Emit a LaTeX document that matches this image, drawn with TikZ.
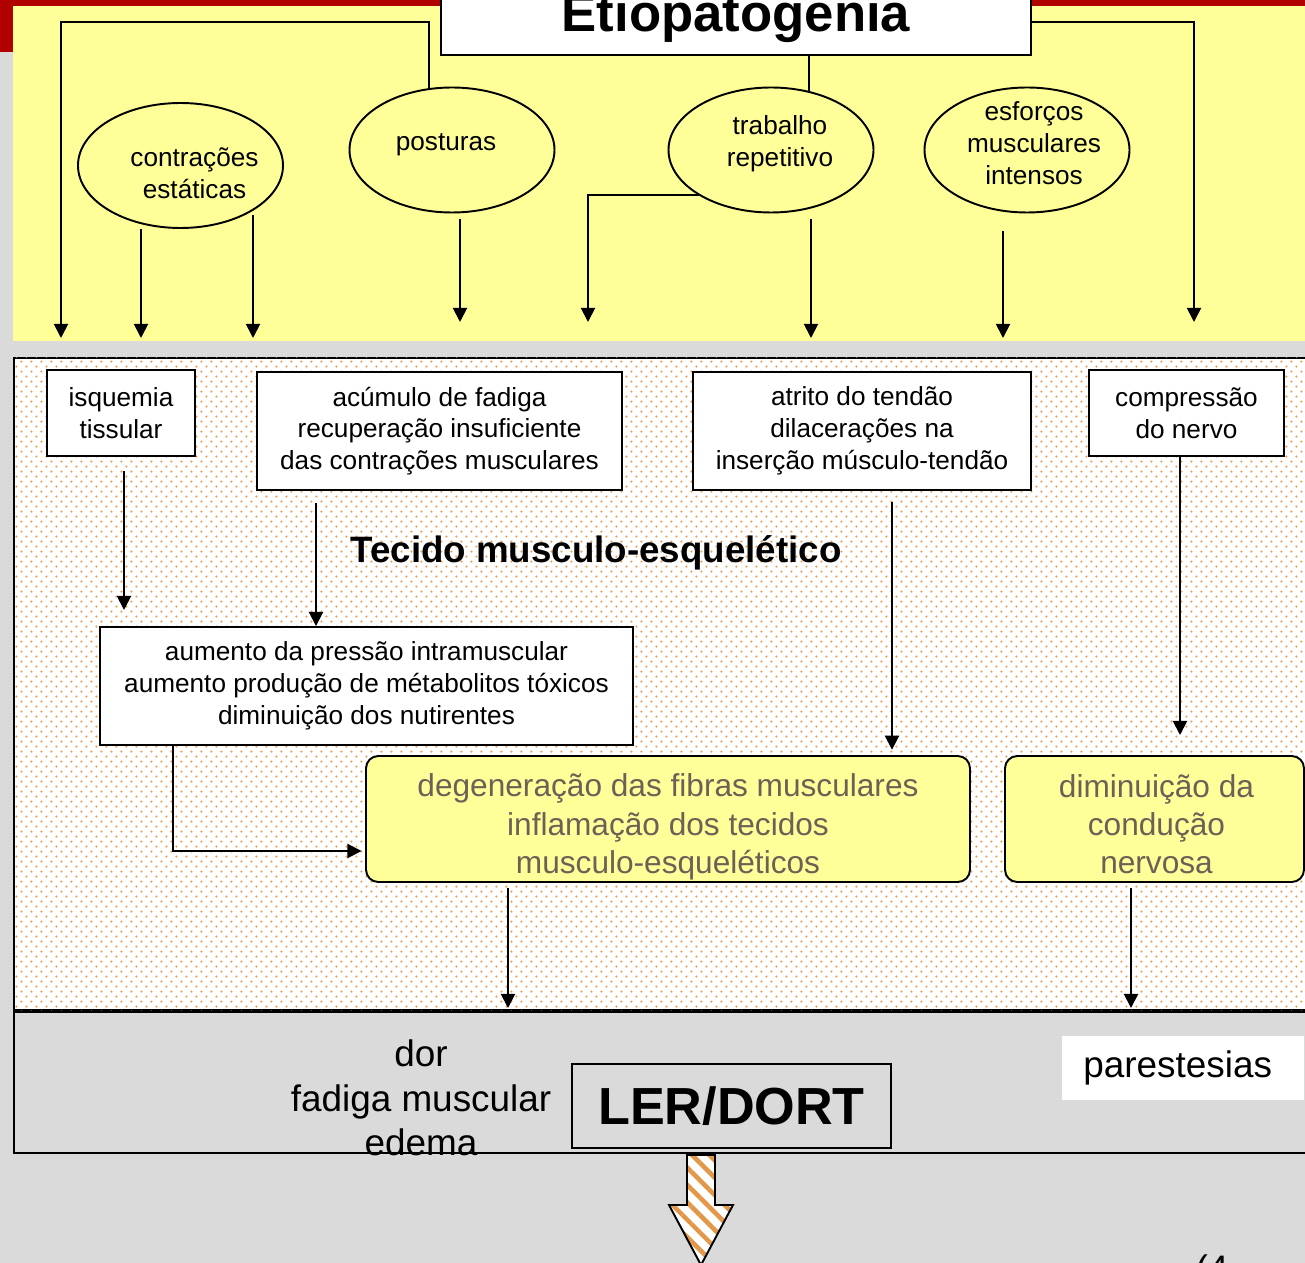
\documentclass[tikz,border=0pt]{standalone}
\usepackage{fontspec}
\setmainfont{Liberation Sans}
\usetikzlibrary{
    arrows.meta,
    positioning,
    shapes.geometric,
    patterns.meta,
}
\definecolor{slidegray}{RGB}{218,218,218}
\definecolor{slidered}{RGB}{176,0,0}
\definecolor{ylw}{RGB}{255,255,153}
\definecolor{dotc}{RGB}{238,160,85}
\definecolor{efftext}{RGB}{108,97,86}
\definecolor{stripe}{RGB}{226,152,72}
\newlength\pxu
\setlength\pxu{0.02cm}
\newcommand\causefont{\fontsize{14.9}{18.1}\selectfont}
\newcommand\efffont{\fontsize{18}{21.8}\selectfont}
\newcommand\symfont{\fontsize{21}{25.5}\selectfont}
\newcommand\etiofont{\fontsize{30}{36}\selectfont\bfseries}
\newcommand\lerfont{\fontsize{29.7}{36}\selectfont\bfseries}
\newcommand\tecfont{\fontsize{20.9}{25}\selectfont\bfseries}
\tikzdeclarepattern{
    name=odots,
    type=uncolored,
    bottom left={(0pt,0pt)},
    top right={(5.67pt,5.67pt)},
    tile size={(5.67pt,5.67pt)},
    code={
        \fill (1.4pt,1.4pt) circle (0.7pt);
        \fill (4.23pt,4.23pt) circle (0.7pt);
    }
}
\begin{document}
\begin{tikzpicture}[
        x=0.02cm, y=-0.02cm,
        cause/.style={ellipse, draw, line width=1.1pt, fill=ylw,
            minimum width=205*\pxu, minimum height=125*\pxu, inner sep=0pt},
        ctext/.style={align=center, font=\causefont, inner sep=0pt},
        sbox/.style={rectangle, draw, line width=1.1pt, fill=white,
            inner sep=0pt, align=center, font=\causefont},
        effect/.style={rectangle, rounded corners=7pt, draw, line width=1.1pt,
            fill=ylw, inner sep=0pt},
        etext/.style={align=center, text=efftext, font=\efffont, inner sep=0pt},
        conn/.style={line width=1.1pt},
        arr/.style={conn, -{Triangle[width=8pt,length=8pt]}},
        down/.style={arr, shorten <=3pt},
    ]
    \useasboundingbox (0,0) rectangle (1305,1263);
    \fill[slidegray] (0,0) rectangle (1305,1263);
    \fill[slidered] (0,0) rectangle (1305,6);
    \fill[slidered] (0,0) rectangle (13,52);
    \fill[ylw] (13,6) rectangle (1305,341);
    \draw[line width=1.1pt, fill=white, postaction={pattern=odots, pattern color=dotc}]
        (14,358) rectangle (1330,1010);
    \draw[line width=1.1pt] (14,1012) rectangle (1330,1153);

    \node[sbox, minimum width=590*\pxu, minimum height=75*\pxu, font=\etiofont]
        (etio) at (736,17.5) {Etiopatogenia};
    \node[cause, label={[ctext, xshift=14*\pxu, yshift=-8*\pxu]center:{contrações\\estáticas}}]
        (contr) at (180.5,165.5) {};
    \node[cause, label={[ctext, xshift=-6*\pxu, yshift=5*\pxu]center:{posturas}}]
        (postur) at (452,150) {};
    \node[cause, label={[ctext, xshift=9*\pxu, yshift=6*\pxu]center:{trabalho\\repetitivo}}]
        (trab) at (771,150) {};
    \node[cause, label={[ctext, xshift=7*\pxu, yshift=7*\pxu]center:{esforços\\musculares\\intensos}}]
        (esf) at (1027,150) {};

    \node[sbox, minimum width=148*\pxu, minimum height=86*\pxu]
        (isq) at (121,413) {isquemia\\tissular};
    \node[sbox, minimum width=365*\pxu, minimum height=118*\pxu]
        (acum) at (439.5,431) {acúmulo de fadiga\\recuperação insuficiente\\das contrações musculares};
    \node[sbox, minimum width=338*\pxu, minimum height=118*\pxu]
        (atr) at (862,431) {atrito do tendão\\dilacerações na\\inserção músculo-tendão};
    \node[sbox, minimum width=195*\pxu, minimum height=86*\pxu]
        (comp) at (1186.5,413) {compressão\\do nervo};
    \node[font=\tecfont] (tec) at (596,553) {Tecido musculo-esquelético};
    \node[sbox, minimum width=533*\pxu, minimum height=118*\pxu]
        (aum) at (366.5,686) {aumento da pressão intramuscular\\aumento produção de métabolitos tóxicos\\diminuição dos nutirentes};
    \node[effect, minimum width=604*\pxu, minimum height=126*\pxu,
        label={[etext, yshift=-8*\pxu]center:{degeneração das fibras musculares\\inflamação dos tecidos\\musculo-esqueléticos}}]
        (deg) at (668,819) {};
    \node[effect, minimum width=299*\pxu, minimum height=126*\pxu,
        label={[etext, xshift=2*\pxu, yshift=-5*\pxu]center:{diminuição da\\condução\\nervosa}}]
        (dim) at (1154.5,819) {};

    \node[align=center, font=\symfont, inner sep=0pt] (dor) at (421,1098) {dor\\fadiga muscular\\edema};
    \node[draw, line width=0.9pt, minimum width=319*\pxu, minimum height=84*\pxu, font=\lerfont]
        (ler) at (731.5,1106) {LER/DORT};
    \node[fill=white, anchor=west, text width=200*\pxu, inner xsep=21*\pxu,
        minimum height=64*\pxu, align=left, font=\symfont] (par) at (1062,1068) {parestesias};
    \node[font=\symfont, anchor=base] (pgno) at (1212,1281) {(4};

    \draw[line width=1.1pt, preaction={fill=white},
        pattern={Lines[angle=-45,distance=7pt,line width=2.6pt]}, pattern color=stripe]
        (687,1155) -- (715,1155) -- (715,1205) -- (733,1205) -- (701,1265)
        -- (669,1205) -- (687,1205) -- cycle;

    \coordinate (c1) at (61,22);
    \coordinate (c1e) at (61,338);
    \coordinate (c2) at (1194,22);
    \coordinate (c2e) at (1194,322);
    \coordinate (c3e) at (588,322);
    \draw[arr] (postur.110) |- (c1) -- (c1e);
    \draw[arr] (etio.east |- c2) -- (c2) -- (c2e);
    \draw[conn] (trab.57 |- etio.south) -- (trab.57);
    \draw[arr] (trab.212) -| (c3e);

    \coordinate (a1) at (141,338);
    \coordinate (a2) at (253,338);
    \coordinate (a3) at (460,322);
    \coordinate (a4) at (811,338);
    \coordinate (a5) at (1003,338);
    \draw[down] (a1 |- contr.236) -- (a1);
    \draw[down] (a2 |- contr.-31) -- (a2);
    \draw[down] (a3 |- postur.south) -- (a3);
    \draw[down] (a4 |- trab.south) -- (a4);
    \draw[arr, shorten <=10pt] (a5 |- esf.south) -- (a5);

    \coordinate (m1) at (124,610);
    \coordinate (m2) at (316,0);
    \coordinate (m3) at (892,0);
    \coordinate (m4) at (1180,735);
    \coordinate (m5) at (173,851);
    \draw[arr, shorten <=8pt] (m1 |- isq.south) -- (m1);
    \draw[arr, shorten <=7pt] (m2 |- acum.south) -- (m2 |- aum.north);
    \draw[arr, shorten <=6pt, shorten >=3pt] (m3 |- atr.south) -- (m3 |- deg.north);
    \draw[arr] (m4 |- comp.south) -- (m4);
    \draw[arr, shorten >=2pt] (m5 |- aum.south) -- (m5) -- (deg.west |- m5);

    \coordinate (b1) at (508,1008);
    \coordinate (b2) at (1131,1008);
    \draw[down] (b1 |- deg.south) -- (b1);
    \draw[down] (b2 |- dim.south) -- (b2);
\end{tikzpicture}
\end{document}
